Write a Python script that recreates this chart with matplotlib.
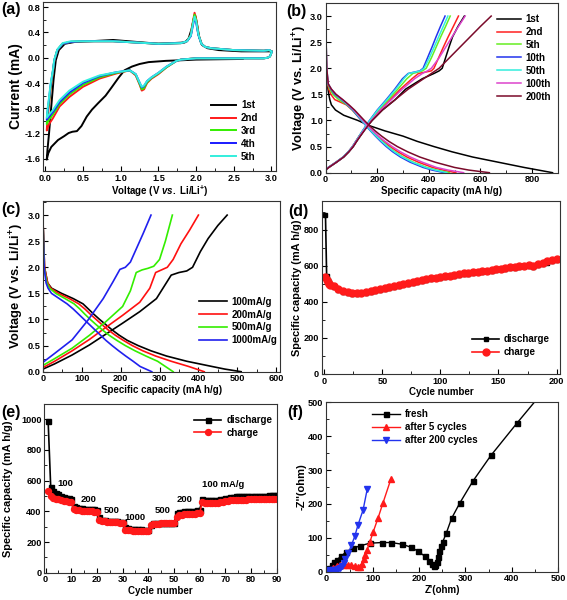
import matplotlib
matplotlib.use('Agg')
import matplotlib.pyplot as plt
from matplotlib.ticker import MultipleLocator, AutoMinorLocator, FormatStrFormatter

plt.rcParams['font.family'] = ['Liberation Sans', 'DejaVu Sans']
plt.rcParams['font.weight'] = 'bold'
plt.rcParams['axes.labelweight'] = 'bold'
plt.rcParams['mathtext.fontset'] = 'custom'
plt.rcParams['mathtext.rm'] = 'Liberation Sans:bold'
plt.rcParams['mathtext.it'] = 'Liberation Sans:italic:bold'
plt.rcParams['mathtext.bf'] = 'Liberation Sans:bold'
plt.rcParams['xtick.direction'] = 'in'
plt.rcParams['ytick.direction'] = 'in'
plt.rcParams['axes.edgecolor'] = '#333333'
plt.rcParams['axes.linewidth'] = 0.8

# ---------------- (a) cyclic voltammetry ----------------
cv_labels = ['1st', '2nd', '3rd', '4th', '5th']
cv_colors = ['#000000', '#ff1a1a', '#33ee00', '#1a1aff', '#33eedd']

cv1_v = [2.62, 2.30, 2.00, 1.82, 1.60, 1.37, 1.25, 1.15, 1.05, 0.97, 0.88, 0.80, 0.70, 0.62, 0.55,
         0.48, 0.42, 0.36, 0.31, 0.25, 0.17, 0.08, 0.04, 0.02, 0.03, 0.05, 0.08, 0.11, 0.14, 0.18,
         0.26, 0.40, 0.60, 0.90, 1.20, 1.50, 1.85, 1.90, 1.94, 1.97, 1.99, 2.01, 2.04, 2.08, 2.15,
         2.30, 2.60, 3.00]
cv1_i = [-0.02, -0.025, -0.03, -0.04, -0.05, -0.07, -0.10, -0.14, -0.20, -0.32, -0.47, -0.60, -0.72, -0.82, -0.93,
         -1.08, -1.16, -1.17, -1.19, -1.24, -1.30, -1.41, -1.51, -1.61, -1.45, -1.20, -0.77, -0.35, -0.04, 0.12,
         0.22, 0.25, 0.26, 0.28, 0.25, 0.22, 0.24, 0.30, 0.45, 0.62, 0.66, 0.55, 0.33, 0.20, 0.15,
         0.12, 0.10, 0.10]

cv_loop_v = [3.00, 2.98, 2.95, 2.90, 2.50, 2.00, 1.90, 1.80, 1.74, 1.61, 1.50, 1.41, 1.35, 1.31, 1.28,
             1.25, 1.20, 1.12, 0.94, 0.72, 0.50, 0.32, 0.19, 0.10, 0.05, 0.02, 0.03, 0.05, 0.07, 0.10,
             0.12, 0.16, 0.23, 0.34, 0.50, 0.90, 1.20, 1.50, 1.80, 1.88, 1.93, 1.96, 1.98, 2.00, 2.03,
             2.07, 2.12, 2.20, 2.50, 2.90, 2.97, 3.00]
cv2_i = [0.08, 0.02, 0.00, -0.01, -0.01, -0.01, -0.02, -0.03, -0.05, -0.15, -0.26, -0.33, -0.40, -0.50, -0.52,
         -0.42, -0.28, -0.20, -0.25, -0.33, -0.46, -0.62, -0.77, -0.96, -1.05, -1.15, -0.95, -0.75, -0.50, -0.25,
         -0.05, 0.12, 0.22, 0.25, 0.26, 0.26, 0.24, 0.22, 0.23, 0.26, 0.36, 0.58, 0.71, 0.62, 0.38,
         0.22, 0.17, 0.15, 0.12, 0.11, 0.12, 0.10]
cv3_i = [0.08, 0.02, 0.00, -0.01, -0.01, -0.01, -0.02, -0.03, -0.05, -0.15, -0.25, -0.32, -0.39, -0.48, -0.50,
         -0.41, -0.27, -0.20, -0.24, -0.31, -0.43, -0.58, -0.73, -0.90, -0.98, -1.05, -0.88, -0.70, -0.47, -0.23,
         -0.04, 0.12, 0.22, 0.25, 0.26, 0.26, 0.24, 0.22, 0.23, 0.26, 0.35, 0.56, 0.68, 0.60, 0.37,
         0.22, 0.17, 0.15, 0.12, 0.11, 0.12, 0.10]
cv4_i = [0.08, 0.02, 0.00, -0.01, -0.01, -0.01, -0.02, -0.03, -0.05, -0.14, -0.24, -0.31, -0.37, -0.45, -0.47,
         -0.39, -0.26, -0.20, -0.23, -0.29, -0.40, -0.55, -0.70, -0.86, -0.93, -0.98, -0.85, -0.66, -0.44, -0.22,
         -0.04, 0.12, 0.22, 0.25, 0.26, 0.26, 0.24, 0.22, 0.23, 0.26, 0.34, 0.52, 0.62, 0.56, 0.36,
         0.22, 0.17, 0.15, 0.12, 0.11, 0.12, 0.10]
cv5_i = [0.08, 0.02, 0.00, -0.01, -0.01, -0.01, -0.02, -0.03, -0.05, -0.14, -0.24, -0.31, -0.37, -0.44, -0.46,
         -0.39, -0.26, -0.20, -0.23, -0.28, -0.38, -0.52, -0.67, -0.83, -0.90, -0.95, -0.82, -0.63, -0.42, -0.21,
         -0.03, 0.13, 0.23, 0.26, 0.26, 0.26, 0.24, 0.22, 0.23, 0.26, 0.35, 0.54, 0.65, 0.58, 0.37,
         0.22, 0.17, 0.15, 0.12, 0.11, 0.12, 0.10]

# ---------------- (b) charge/discharge profiles ----------------
b_labels = ['1st', '2nd', '5th', '10th', '50th', '100th', '200th']
b_colors = ['#000000', '#ff2020', '#66ee22', '#2233ee', '#33eedd', '#dd44cc', '#7a0a2a']
b_dis_v = [2.9, 2.0, 1.7, 1.6, 1.5, 1.4, 1.3, 1.2, 1.1, 1.0, 0.9, 0.8, 0.7, 0.6, 0.5, 0.4, 0.3, 0.2, 0.1, 0.05, 0.0]
b_dis_cap = [
    [0, 2, 6, 9, 12, 16, 22, 38, 70, 125, 170, 230, 300, 355, 420, 490, 570, 670, 770, 825, 880],
    [0, 3, 7, 12, 20, 35, 80, 103, 121, 139, 158, 178, 200, 224, 250, 280, 315, 360, 415, 455, 505],
    [0, 3, 8, 16, 28, 50, 82, 104, 122, 140, 158, 177, 197, 219, 242, 268, 300, 340, 392, 430, 480],
    [0, 3, 9, 20, 35, 60, 84, 105, 122, 139, 156, 174, 193, 213, 235, 260, 290, 328, 378, 413, 460],
    [0, 4, 10, 22, 38, 62, 86, 107, 124, 141, 158, 176, 196, 217, 240, 266, 297, 337, 388, 425, 470],
    [0, 4, 10, 22, 40, 65, 88, 109, 127, 145, 163, 183, 205, 230, 258, 290, 328, 375, 430, 475, 535],
    [0, 4, 10, 22, 40, 66, 90, 112, 131, 150, 170, 192, 217, 245, 278, 318, 365, 425, 500, 555, 635],
]
b_chg_v = [0.05, 0.1, 0.2, 0.3, 0.4, 0.5, 0.6, 0.7, 0.8, 0.9, 1.0, 1.2, 1.4, 1.6, 1.8, 1.9, 1.95, 2.0,
           2.2, 2.4, 2.6, 2.8, 3.0]
b_chg_cap = [
    [0, 12, 42, 70, 90, 107, 120, 134, 148, 163, 180, 220, 270, 310, 375, 420, 440, 452, 465, 478, 492, 513, 538],
    [0, 10, 40, 68, 88, 104, 117, 130, 144, 159, 175, 210, 250, 290, 335, 360, 410, 420, 438, 456, 475, 495, 515],
    [0, 10, 40, 68, 88, 104, 117, 130, 144, 158, 173, 205, 243, 280, 315, 338, 375, 390, 410, 428, 446, 465, 483],
    [0, 10, 40, 68, 88, 104, 117, 130, 143, 156, 170, 200, 235, 268, 298, 320, 365, 378, 395, 412, 428, 445, 463],
    [0, 10, 40, 68, 88, 104, 117, 130, 143, 157, 171, 202, 238, 272, 303, 322, 368, 382, 402, 420, 438, 456, 474],
    [0, 11, 41, 69, 89, 105, 118, 132, 146, 161, 177, 213, 255, 297, 345, 375, 395, 410, 440, 465, 490, 515, 541],
    [0, 12, 42, 70, 90, 107, 120, 134, 149, 164, 180, 220, 270, 320, 380, 410, 425, 440, 480, 520, 560, 600, 642],
]

# ---------------- (c) rate profiles ----------------
c_labels = ['100mA/g', '200mA/g', '500mA/g', '1000mA/g']
c_colors = ['#000000', '#ff1010', '#33ee00', '#2020ee']
c_dis_v = [2.9, 2.0, 1.7, 1.6, 1.5, 1.4, 1.3, 1.2, 1.1, 1.0, 0.9, 0.8, 0.7, 0.6, 0.5, 0.4, 0.3, 0.2, 0.1, 0.05, 0.0]
c_dis_cap = [
    [0, 4, 12, 22, 48, 78, 103, 117, 131, 146, 162, 178, 196, 217, 245, 278, 318, 370, 435, 468, 510],
    [0, 4, 12, 20, 40, 68, 92, 108, 122, 137, 152, 168, 186, 207, 230, 257, 290, 330, 375, 395, 415],
    [0, 3, 10, 17, 33, 57, 80, 95, 108, 122, 137, 153, 170, 190, 212, 237, 265, 295, 315, 325, 335],
    [0, 3, 8, 13, 22, 42, 62, 78, 92, 106, 120, 134, 148, 162, 178, 195, 213, 232, 250, 265, 280],
]
c_chg_cap = [
    [0, 30, 75, 119, 162, 205, 249, 292, 330, 350, 370, 385, 405, 425, 450, 474],
    [0, 30, 75, 120, 162, 205, 249, 275, 290, 305, 320, 335, 355, 378, 400],
    [0, 30, 75, 120, 162, 205, 225, 240, 255, 270, 285, 300, 315, 333],
    [0, 30, 75, 115, 155, 180, 198, 212, 225, 240, 258, 278],
]
c_chg_v = [
    [0.05, 0.15, 0.32, 0.51, 0.72, 0.93, 1.15, 1.40, 1.85, 1.90, 1.93, 2.00, 2.30, 2.55, 2.80, 3.00],
    [0.08, 0.20, 0.40, 0.62, 0.85, 1.08, 1.33, 1.60, 1.90, 1.95, 2.00, 2.15, 2.45, 2.72, 3.00],
    [0.12, 0.25, 0.45, 0.70, 0.96, 1.25, 1.55, 1.90, 1.95, 1.98, 2.02, 2.15, 2.50, 3.00],
    [0.18, 0.35, 0.61, 0.98, 1.40, 1.72, 1.96, 2.00, 2.10, 2.35, 2.65, 3.00],
]

# ---------------- (d) cycling ----------------
d_cycles = [1, 2, 3, 4, 5, 8, 12, 16, 20, 24, 28, 32, 36, 40, 44, 48, 52, 56, 60, 64, 68, 72, 76, 80,
            84, 88, 92, 96, 100, 104, 108, 112, 116, 120, 124, 128, 132, 136, 140, 144, 148, 152, 156,
            160, 164, 168, 172, 176, 180, 184, 188, 192, 196, 200]
d_discharge = [880, 545, 520, 508, 500, 482, 466, 455, 449, 446, 446, 448, 452, 457, 462, 467, 473, 479,
               485, 491, 497, 502, 507, 512, 517, 522, 526, 530, 534, 538, 542, 546, 550, 554, 557, 561,
               564, 567, 570, 573, 577, 581, 584, 587, 590, 593, 597, 600, 596, 607, 612, 618, 625, 633]
d_charge = [540, 522, 510, 502, 495, 486, 470, 459, 453, 450, 450, 452, 456, 461, 466, 471, 477, 483,
            489, 495, 501, 506, 511, 516, 521, 526, 530, 534, 538, 542, 546, 550, 554, 558, 561, 565,
            568, 571, 574, 577, 581, 585, 588, 591, 594, 597, 601, 605, 600, 612, 618, 625, 632, 640]

# ---------------- (e) rate capability ----------------
e_cycles = list(range(1, 91))
e_discharge = [990, 560, 530, 520, 510, 502, 496, 490, 486, 481,
               435, 426, 423, 420, 418, 416, 415, 414, 413, 412,
               362, 346, 342, 340, 338, 336, 335, 334, 333, 332,
               296, 289, 287, 285, 284, 283, 282, 281, 281, 280,
               314, 321, 323, 324, 324, 325, 325, 326, 326, 327,
               386, 395, 398, 400, 402, 403, 404, 405, 406, 407,
               482, 476, 475, 474, 474, 475, 477, 479, 482, 486,
               490, 493, 495, 497, 498, 499, 500, 500, 501, 501,
               502, 502, 502, 503, 503, 503, 504, 504, 505, 505]
e_charge = [532, 500, 490, 483, 478, 473, 469, 465, 462, 458,
            415, 410, 407, 405, 403, 402, 401, 400, 399, 398,
            346, 338, 335, 333, 331, 330, 329, 328, 327, 327,
            281, 277, 276, 275, 275, 274, 274, 274, 273, 273,
            311, 317, 319, 320, 321, 321, 322, 322, 322, 323,
            366, 375, 378, 380, 382, 383, 384, 385, 386, 387,
            462, 456, 455, 454, 454, 455, 456, 458, 461, 465,
            469, 472, 474, 475, 476, 476, 477, 477, 478, 478,
            479, 479, 479, 480, 480, 480, 481, 481, 482, 482]
e_rate_text = ['100', '200', '500', '1000', '500', '200', '100 mA/g']
e_rate_x = [7.5, 16.6, 25.7, 34.8, 45.6, 54.3, 69]
e_rate_y = [583, 474, 404, 361, 404, 478, 576]

# ---------------- (f) impedance ----------------
f_fresh_x = [1, 6, 11, 17, 22, 32, 43, 57, 72, 93, 119, 140, 163, 183, 198, 212, 222, 228, 232, 235,
             238, 241, 244, 247, 251, 259, 270, 288, 316, 355, 411, 470]
f_fresh_y = [5, 12, 20, 28, 35, 46, 59, 69, 76, 84, 86, 86, 81, 72, 60, 46, 33, 24, 18, 20,
             30, 44, 60, 75, 88, 115, 157, 203, 267, 343, 438, 535]
f_5_x = [3, 8, 15, 22, 30, 38, 46, 54, 61, 67, 72, 76, 80, 84, 88, 94, 101, 111, 122, 139]
f_5_y = [2, 6, 12, 17, 20, 21, 21, 20, 17, 13, 15, 24, 36, 50, 65, 89, 118, 157, 203, 273]
f_200_x = [3, 8, 14, 20, 25, 29, 33, 37, 41, 47, 54, 61, 68, 79, 88]
f_200_y = [2, 4, 6, 6, 8, 12, 18, 26, 36, 54, 79, 104, 138, 182, 244]


def style(ax, xmaj, ymaj, xfmt=None, yfmt=None, ysize=8.8):
    ax.xaxis.set_major_locator(MultipleLocator(xmaj))
    ax.yaxis.set_major_locator(MultipleLocator(ymaj))
    ax.xaxis.set_minor_locator(AutoMinorLocator(2))
    ax.yaxis.set_minor_locator(AutoMinorLocator(2))
    if xfmt:
        ax.xaxis.set_major_formatter(FormatStrFormatter(xfmt))
    if yfmt:
        ax.yaxis.set_major_formatter(FormatStrFormatter(yfmt))
    ax.tick_params(which='major', length=3.5, width=0.8, labelsize=6.6, pad=2)
    ax.tick_params(which='minor', length=2, width=0.6)
    ax.xaxis.label.set_size(7.0)
    ax.yaxis.label.set_size(ysize)
    ax.xaxis.labelpad = 1
    ax.yaxis.labelpad = 1


def leg(ax, x, y, hl=2.6):
    ax.legend(loc='upper left', bbox_to_anchor=(x, y), frameon=False, fontsize=7,
              handlelength=hl, handletextpad=0.5, labelspacing=0.3, borderaxespad=0, borderpad=0)


fig = plt.figure(figsize=(5.67, 6.0), dpi=100)

# (a)
ax = fig.add_axes([0.0758, 0.715, 0.411, 0.2817])
ax.plot(cv1_v, cv1_i, color=cv_colors[0], lw=1.4, label=cv_labels[0])
for cur, col, lab in zip([cv2_i, cv3_i, cv4_i, cv5_i], cv_colors[1:], cv_labels[1:]):
    ax.plot(cv_loop_v, cur, color=col, lw=1.4, label=lab)
ax.set_xlim(-0.03, 3.06)
ax.set_ylim(-1.79, 0.88)
style(ax, 0.5, 0.4, '%.1f', '%.1f', ysize=10)
ax.set_xlabel(r'Voltage (V $\mathit{vs.}$ Li/Li$^{+}$)')
ax.set_ylabel('Current (mA)')
leg(ax, 0.72, 0.42)

# (b)
ax = fig.add_axes([0.5744, 0.7122, 0.4092, 0.2828])
for cap_d, cap_c, col, lab in zip(b_dis_cap, b_chg_cap, b_colors, b_labels):
    ax.plot(cap_d, b_dis_v, color=col, lw=1.1, label=lab)
    ax.plot(cap_c, b_chg_v, color=col, lw=1.1)
ax.set_xlim(0, 900)
ax.set_ylim(0, 3.25)
style(ax, 200, 0.5, None, '%.1f', ysize=9.3)
ax.set_xlabel('Specific capacity (mA h/g)')
ax.set_ylabel(r'Voltage (V vs. Li/Li$^{+}$)')
leg(ax, 0.74, 0.935, 2.4)

# (c)
ax = fig.add_axes([0.0758, 0.3805, 0.418, 0.2845])
for cap_d, cap_c, v_c, col, lab in zip(c_dis_cap, c_chg_cap, c_chg_v, c_colors, c_labels):
    ax.plot(cap_d, c_dis_v, color=col, lw=1.2, label=lab)
    ax.plot(cap_c, v_c, color=col, lw=1.2)
ax.set_xlim(0, 610)
ax.set_ylim(0, 3.27)
style(ax, 100, 0.5, None, '%.1f', ysize=9.3)
ax.set_xlabel('Specific capacity (mA h/g)')
ax.set_ylabel(r'Voltage (V vs. Li/Li$^{+}$)')
leg(ax, 0.66, 0.44, 2.8)

# (d)
ax = fig.add_axes([0.5679, 0.3767, 0.4198, 0.2883])
ax.plot(d_cycles, d_discharge, color='black', marker='s', ms=3.5, lw=1.2, label='discharge')
ax.plot(d_cycles, d_charge, color='#ff1a1a', marker='o', ms=5, lw=1.2, label='charge')
ax.set_xlim(-2, 203)
ax.set_ylim(0, 960)
style(ax, 50, 200, ysize=7.9)
ax.set_xlabel('Cycle number')
ax.set_ylabel('Specific capacity (mA h/g)')
leg(ax, 0.63, 0.23, 2.8)

# (e)
ax = fig.add_axes([0.0781, 0.0455, 0.4099, 0.2812])
ax.plot(e_cycles, e_discharge, color='black', marker='s', ms=3.6, lw=1.2, label='discharge')
ax.plot(e_cycles, e_charge, color='#ff1a1a', marker='o', ms=4.3, lw=1.2, label='charge')
for t, x, y in zip(e_rate_text, e_rate_x, e_rate_y):
    ax.text(x, y, t, fontsize=6.8, ha='center', va='center')
ax.set_xlim(-0.5, 90)
ax.set_ylim(0, 1100)
style(ax, 10, 200, ysize=7.9)
ax.yaxis.set_label_coords(-0.135, 0.47)
ax.set_xlabel('Cycle number')
ax.set_ylabel('Specific capacity (mA h/g)')
leg(ax, 0.645, 0.935, 2.8)

# (f)
ax = fig.add_axes([0.575, 0.0472, 0.4092, 0.2823])
ax.plot(f_fresh_x, f_fresh_y, color='black', marker='s', ms=3.6, lw=1.0, label='fresh')
ax.plot(f_5_x, f_5_y, color='#ff1a1a', marker='^', ms=4.2, lw=1.0, label='after 5 cycles')
ax.plot(f_200_x, f_200_y, color='#2233ee', marker='v', ms=4.2, lw=1.0, label='after 200 cycles')
ax.set_xlim(-1, 500)
ax.set_ylim(0, 500)
style(ax, 100, 100, ysize=8.0)
ax.set_xlabel("Z'(ohm)")
ax.set_ylabel("-Z''(ohm)")
leg(ax, 0.2, 0.96, 2.8)

for t, x, y in [('(a)', 0.002, 0.996), ('(b)', 0.504, 0.993), ('(c)', 0.002, 0.664),
                ('(d)', 0.509, 0.66), ('(e)', 0.002, 0.325), ('(f)', 0.506, 0.325)]:
    fig.text(x, y, t, fontsize=11.5, fontweight='bold', va='top', ha='left')

fig.savefig('out.png', dpi=100)
